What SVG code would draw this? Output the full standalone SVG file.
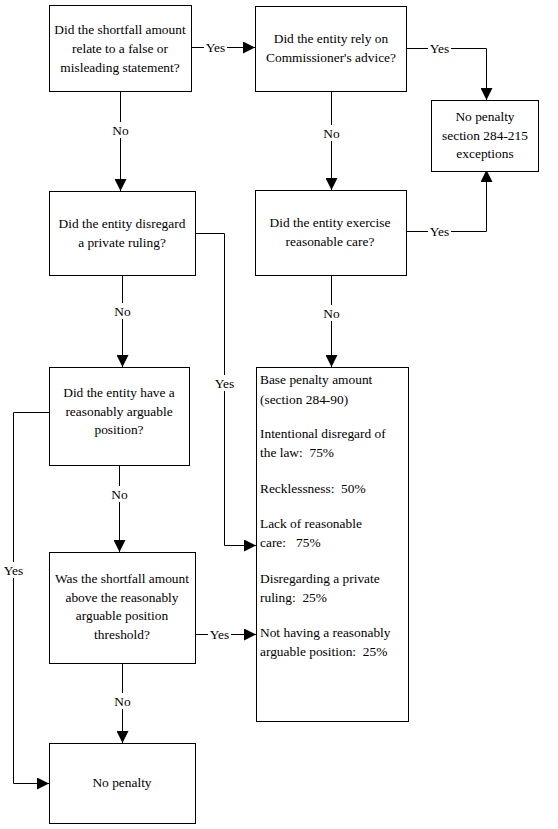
<svg xmlns="http://www.w3.org/2000/svg" width="558" height="829" viewBox="0 0 558 829" font-family="'Liberation Serif', 'DejaVu Serif', serif">
<style>
.box{fill:#fff;stroke:#000;stroke-width:1}
text{font-family:'Liberation Serif','DejaVu Serif',serif;font-size:13.4px;fill:#000}
.c{text-anchor:middle}
.ln{fill:none;stroke:#000;stroke-width:1}
.lb{fill:#fff}
</style>
<defs>
<marker id="ah" viewBox="0 0 12 12" refX="12" refY="6" markerWidth="12" markerHeight="12" markerUnits="userSpaceOnUse" orient="auto">
<path d="M0,0 L12,6 L0,12 Z" fill="#000"/>
</marker>
</defs>
<rect width="558" height="829" fill="#fff"/>
<g id="connectors">
<path class="ln" d="M191.5,47.5 H255" marker-end="url(#ah)"/>
<path class="ln" d="M120.5,91.5 V191" marker-end="url(#ah)"/>
<path class="ln" d="M406.5,48.5 H486.5 V100" marker-end="url(#ah)"/>
<path class="ln" d="M331.5,91.5 V190" marker-end="url(#ah)"/>
<path class="ln" d="M406.5,231.5 H486.5 V170" marker-end="url(#ah)"/>
<path class="ln" d="M331.5,275.5 V367" marker-end="url(#ah)"/>
<path class="ln" d="M195.5,233.5 H224.5 V545.5 H256" marker-end="url(#ah)"/>
<path class="ln" d="M122.5,275.5 V367" marker-end="url(#ah)"/>
<path class="ln" d="M119.5,465.5 V552" marker-end="url(#ah)"/>
<path class="ln" d="M49.5,412.5 H13.5 V783.5 H49" marker-end="url(#ah)"/>
<path class="ln" d="M195.5,634.5 H256" marker-end="url(#ah)"/>
<path class="ln" d="M122.5,663.5 V743" marker-end="url(#ah)"/>
<rect class="lb" x="204" y="40" width="23" height="15"/><text class="c" x="215.5" y="52">Yes</text>
<rect class="lb" x="111" y="122" width="19" height="16"/><text class="c" x="120.5" y="135">No</text>
<rect class="lb" x="428" y="41" width="23" height="15"/><text class="c" x="439.5" y="53">Yes</text>
<rect class="lb" x="322" y="125" width="19" height="16"/><text class="c" x="331.5" y="138">No</text>
<rect class="lb" x="428" y="224" width="23" height="15"/><text class="c" x="439.5" y="236">Yes</text>
<rect class="lb" x="322" y="305" width="19" height="16"/><text class="c" x="331.5" y="318">No</text>
<rect class="lb" x="213" y="375" width="23" height="16"/><text class="c" x="224.5" y="388">Yes</text>
<rect class="lb" x="113" y="303" width="19" height="16"/><text class="c" x="122.5" y="316">No</text>
<rect class="lb" x="110" y="486" width="19" height="16"/><text class="c" x="119.5" y="499">No</text>
<rect class="lb" x="2" y="562" width="23" height="16"/><text class="c" x="13.5" y="575">Yes</text>
<rect class="lb" x="208" y="627" width="23" height="15"/><text class="c" x="219.5" y="639">Yes</text>
<rect class="lb" x="113" y="693" width="19" height="16"/><text class="c" x="122.5" y="706">No</text>
</g>
<g id="q1">
<rect class="box" x="49.5" y="5.5" width="142" height="86"/>
<text class="c" x="120" y="34">Did the shortfall amount</text>
<text class="c" x="120" y="53">relate to a false or</text>
<text class="c" x="120" y="72">misleading statement?</text>
</g>
<g id="q2">
<rect class="box" x="255.5" y="6.5" width="151" height="85"/>
<text class="c" x="331" y="43">Did the entity rely on</text>
<text class="c" x="331" y="62">Commissioner's advice?</text>
</g>
<g id="exc">
<rect class="box" x="431.5" y="100.5" width="107" height="71"/>
<text class="c" x="485" y="121">No penalty</text>
<text class="c" x="485" y="140">section 284-215</text>
<text class="c" x="485" y="158">exceptions</text>
</g>
<g id="q3">
<rect class="box" x="49.5" y="191.5" width="146" height="84"/>
<text class="c" x="122" y="228">Did the entity disregard</text>
<text class="c" x="122" y="247">a private ruling?</text>
</g>
<g id="q4">
<rect class="box" x="255.5" y="190.5" width="151" height="85"/>
<text class="c" x="330" y="227">Did the entity exercise</text>
<text class="c" x="330" y="246">reasonable care?</text>
</g>
<g id="q5">
<rect class="box" x="49.5" y="367.5" width="140" height="98"/>
<text class="c" x="119" y="397">Did the entity have a</text>
<text class="c" x="119" y="416">reasonably arguable</text>
<text class="c" x="119" y="434">position?</text>
</g>
<g id="base">
<rect class="box" x="256.5" y="367.5" width="152" height="354"/>
<text x="260" y="384">Base penalty amount</text>
<text x="260" y="404">(section 284-90)</text>
<text x="260" y="438">Intentional disregard of</text>
<text x="260" y="457" xml:space="preserve">the law:  75%</text>
<text x="260" y="493" xml:space="preserve">Recklessness:  50%</text>
<text x="260" y="528">Lack of reasonable</text>
<text x="260" y="547" xml:space="preserve">care:   75%</text>
<text x="260" y="583">Disregarding a private</text>
<text x="260" y="602" xml:space="preserve">ruling:  25%</text>
<text x="260" y="637">Not having a reasonably</text>
<text x="260" y="656" xml:space="preserve">arguable position:  25%</text>
</g>
<g id="q6">
<rect class="box" x="49.5" y="552.5" width="146" height="111"/>
<text class="c" x="122" y="583">Was the shortfall amount</text>
<text class="c" x="122" y="602">above the reasonably</text>
<text class="c" x="122" y="620">arguable position</text>
<text class="c" x="122" y="639">threshold?</text>
</g>
<g id="nopen">
<rect class="box" x="49.5" y="743.5" width="146" height="80"/>
<text class="c" x="122" y="787">No penalty</text>
</g>
</svg>
